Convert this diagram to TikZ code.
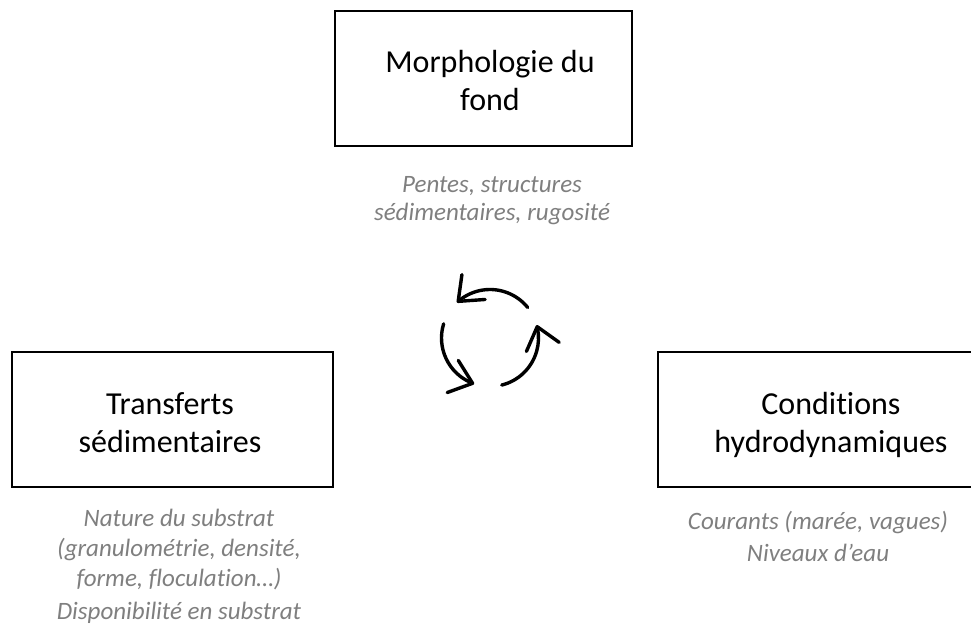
\documentclass[tikz,border=0pt]{standalone}
\usepackage{fontspec}
\setmainfont{Carlito}[Ligatures=NoCommon]
\usetikzlibrary{arrows.meta,bending}
\definecolor{notegray}{HTML}{7F7F7F}
\begin{document}
\begin{tikzpicture}[x=1pt,y=1pt,
  boxnode/.style={draw=black, line width=2.2pt, inner sep=0pt},
  boxtext/.style={font=\fontsize{32}{38}\selectfont, align=center, text=black, inner sep=0pt},
  notetext/.style={font=\fontsize{25}{30}\selectfont\itshape, align=center, text=notegray, inner sep=0pt},
  cycarrow/.style={line width=3.4pt, line cap=round,
    -{Straight Barb[length=21pt,width=34pt,line cap=round,line join=round]}}]
\useasboundingbox (0,0) rectangle (971,625);
\clip (0,0) rectangle (971,625);
% boxes
\node[boxnode, minimum width=297pt, minimum height=135pt] (morph) at (483.5,546.5) {};
\node[boxnode, minimum width=321pt, minimum height=135pt] (trans) at (172.5,205.5) {};
\node[boxnode, minimum width=346pt, minimum height=135pt] (cond) at (831,205.5) {};
% box texts
\node[boxtext] (morphtxt) at (490,544) {Morphologie du\\fond};
\node[boxtext] (transtxt) at (170,202) {Transferts\\sédimentaires};
\node[boxtext] (condtxt) at (831,200.5) {Conditions\\hydrodynamiques};
% notes
\node[notetext, font=\fontsize{25}{28}\selectfont\itshape] (morphnote) at (492,424) {Pentes, structures\\sédimentaires, rugosité};
\node[notetext] (transnote) at (179,58.5) {Nature du substrat\\(granulométrie, densité,\\forme, floculation…)\\[3pt]Disponibilité en substrat};
\node[notetext] (condnote) at (818,88.5) {Courants (marée, vagues)\\[2pt]Niveaux d’eau};
% cycle
\coordinate (ctr) at (490,287);
\draw[cycarrow] ([shift={(39:48.5)}]ctr) arc[start angle=39, end angle=133, radius=48.5pt];
\draw[cycarrow] ([shift={(163:48.5)}]ctr) arc[start angle=163, end angle=251, radius=48.5pt];
\draw[cycarrow] ([shift={(284:48.5)}]ctr) arc[start angle=284, end angle=375.5, radius=48.5pt];
\end{tikzpicture}
\end{document}
